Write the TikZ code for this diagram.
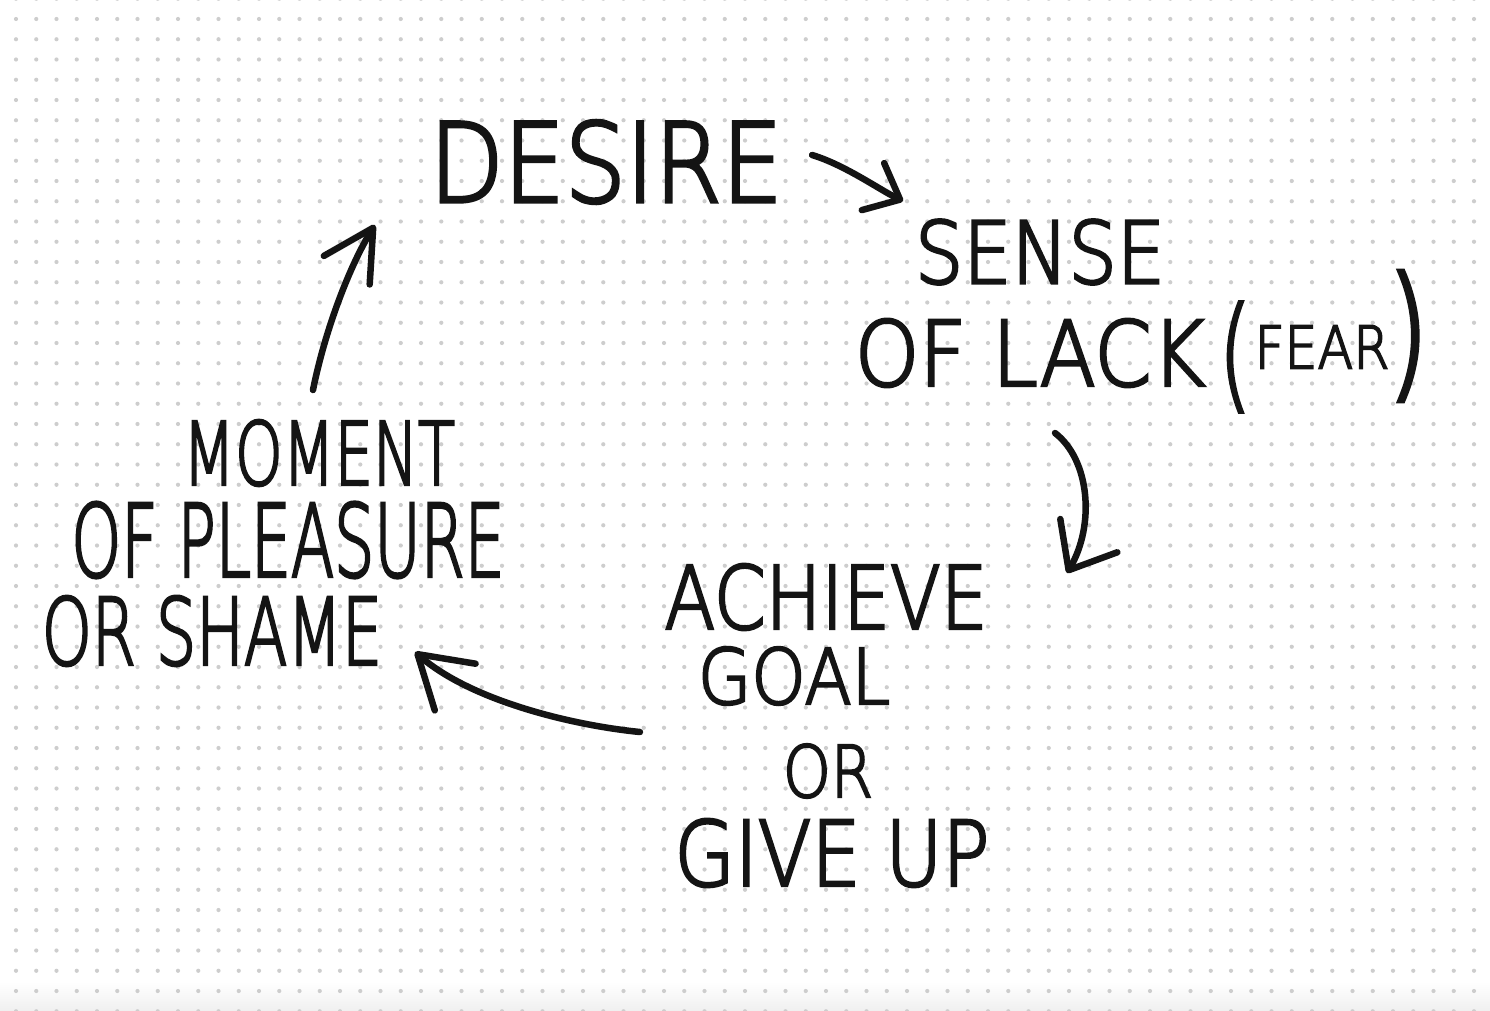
\documentclass[tikz,border=0pt]{standalone}
\usepackage{fontspec}
\usepackage{graphicx}
\usetikzlibrary{arrows.meta}
\newfontfamily\handfont{DejaVu Sans ExtraLight}[FakeBold=3.2]
\newcommand{\handtxt}[3]{\resizebox*{#1pt}{#2pt}{\handfont #3}}
\definecolor{ink}{RGB}{20,20,20}
\definecolor{dotc}{RGB}{205,205,205}
\begin{document}
\begin{tikzpicture}[x=1pt,y=-1pt,
  hand/.style={inner sep=0pt,outer sep=0pt,text=ink},
  arr/.style={draw=ink,line width=6.5pt,line cap=round,line join=round}]
\useasboundingbox (0,0) rectangle (1490,1011);
\fill[white] (0,0) rectangle (1490,1011);
\fill[top color=white,bottom color=black!6] (0,982) rectangle (1490,1011);
\foreach \i in {0,...,72}{
  \foreach \j in {0,...,50}{
    \fill[dotc] ({16+20.25*\i},{-1.25+20.25*\j}) circle (2.1);
  }
}
% texts
\node[hand] (desire)   at (606,162) {\handtxt{353}{83}{DESIRE}};
\node[hand] (sense)    at (1040,252) {\handtxt{250}{65}{SENSE}};
\node[hand] (lack)     at (1030,353) {\handtxt{350}{68}{OF LACK}};
\node[hand] (lparen)   at (1235,357) {\handtxt{32}{110}{(}};
\node[hand] (fear)     at (1322,347) {\handtxt{135}{43}{FEAR}};
\node[hand] (rparen)   at (1408,336) {\handtxt{42}{130}{)}};
\node[hand] (moment)   at (319,453) {\handtxt{272}{66}{MOMENT}};
\node[hand] (pleasure) at (288,540) {\handtxt{433}{76}{OF PLEASURE}};
\node[hand] (shame)    at (212,631) {\handtxt{340}{70}{OR SHAME}};
\node[hand] (achieve)  at (826,597) {\handtxt{323}{66}{ACHIEVE}};
\node[hand] (goal)     at (794,676) {\handtxt{192}{58}{GOAL}};
\node[hand] (orn)      at (828,771) {\handtxt{90}{54}{OR}};
\node[hand] (giveup)   at (832,853) {\handtxt{315}{68}{GIVE UP}};
% connectors
\draw[arr,-{Straight Barb[round,length=30pt,width=52pt]}]
  ([shift={(29.5,-7)}]desire.east) .. controls (845,165) and (880,190) .. ([shift={(-12,-18.5)}]sense.north west);
\draw[arr,-{Straight Barb[round,length=40pt,width=66pt]}]
  ([shift={(25,46)}]lack.south) .. controls (1090,460) and (1095,525) .. ([shift={(79.5,9)}]achieve.north east);
\draw[arr,-{Straight Barb[round,length=50pt,width=62pt]}]
  ([shift={(-58,27)}]goal.south west) .. controls (570,725) and (470,700) .. ([shift={(33,-14)}]shame.south east);
\draw[arr,-{Straight Barb[round,length=50pt,width=54pt]}]
  ([shift={(130,-30)}]moment.north west) .. controls (325,330) and (350,265) .. ([shift={(-54.5,21.5)}]desire.south west);
\end{tikzpicture}
\end{document}
